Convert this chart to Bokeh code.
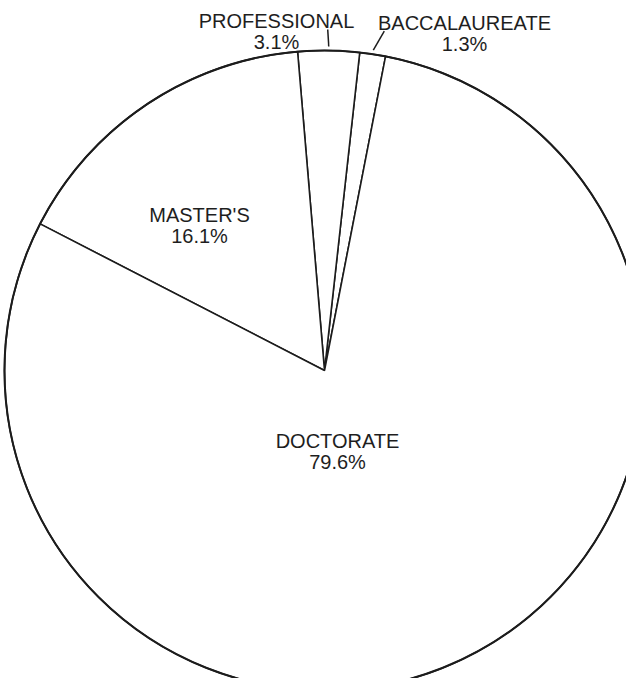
import math
from bokeh.plotting import figure
from bokeh.models import Range1d, ColumnDataSource
from bokeh.core.properties import value
from bokeh.embed import file_html
from bokeh.resources import INLINE

# ---- data ----
categories = ["BACCALAUREATE", "PROFESSIONAL", "MASTER'S", "DOCTORATE"]
percents = [1.3, 3.1, 16.1, 79.6]
pct_labels = ["1.3%", "3.1%", "16.1%", "79.6%"]

# ---- layout ----
CX, CY, R = 332, -378, 320
START_DEG = 79.0
# label anchor (centre x, baseline y of first line) in page pixels
label_pos = {
    "BACCALAUREATE": (472, 30),
    "PROFESSIONAL": (284, 28),
    "MASTER'S": (207, 222),
    "DOCTORATE": (345, 448),
}
# leader line offsets for the small slices (dx, dy up)
leader_off = {"BACCALAUREATE": (11, 19), "PROFESSIONAL": (-1, 17)}
LINE_GAP = 21

total = sum(percents)
starts, ends = [], []
a = math.radians(START_DEG)
for v in percents:
    starts.append(a)
    a += 2 * math.pi * v / total
    ends.append(a)

src = ColumnDataSource(dict(cat=categories, start=starts, end=ends))

p = figure(width=626, height=678, output_backend="svg", toolbar_location=None,
           x_range=Range1d(8, 634), y_range=Range1d(-686, -8), min_border=0)
p.axis.visible = False
p.grid.visible = False
p.outline_line_color = None
p.background_fill_color = "white"
p.border_fill_color = "white"

p.wedge(x=CX, y=CY, radius=R, start_angle="start", end_angle="end",
        direction="anticlock", fill_color="white", line_color="#1c1c1c",
        line_width=1.6, source=src)
p.circle(x=[CX], y=[CY], radius=R, fill_color=None, line_color="#1c1c1c", line_width=2)

tx, ty, tt = [], [], []
for c, pl in zip(categories, pct_labels):
    x, y = label_pos[c]
    tx += [x, x]
    ty += [-y, -(y + LINE_GAP)]
    tt += [c, pl]
p.text(x=tx, y=ty, text=tt, text_align="center", text_baseline="alphabetic",
       text_font=value("Liberation Sans"), text_font_size="20px", text_color="#1e1e1e")

x0s, y0s, x1s, y1s = [], [], [], []
for c, s, e in zip(categories, starts, ends):
    if c in leader_off:
        m = (s + e) / 2
        sx = CX + (R + 4) * math.cos(m)
        sy = CY + (R + 4) * math.sin(m)
        dx, dy = leader_off[c]
        x0s.append(sx); y0s.append(sy); x1s.append(sx + dx); y1s.append(sy + dy)
p.segment(x0=x0s, y0=y0s, x1=x1s, y1=y1s, line_color="#1c1c1c", line_width=1.5)

open("out.html", "w").write(file_html(p, INLINE))
